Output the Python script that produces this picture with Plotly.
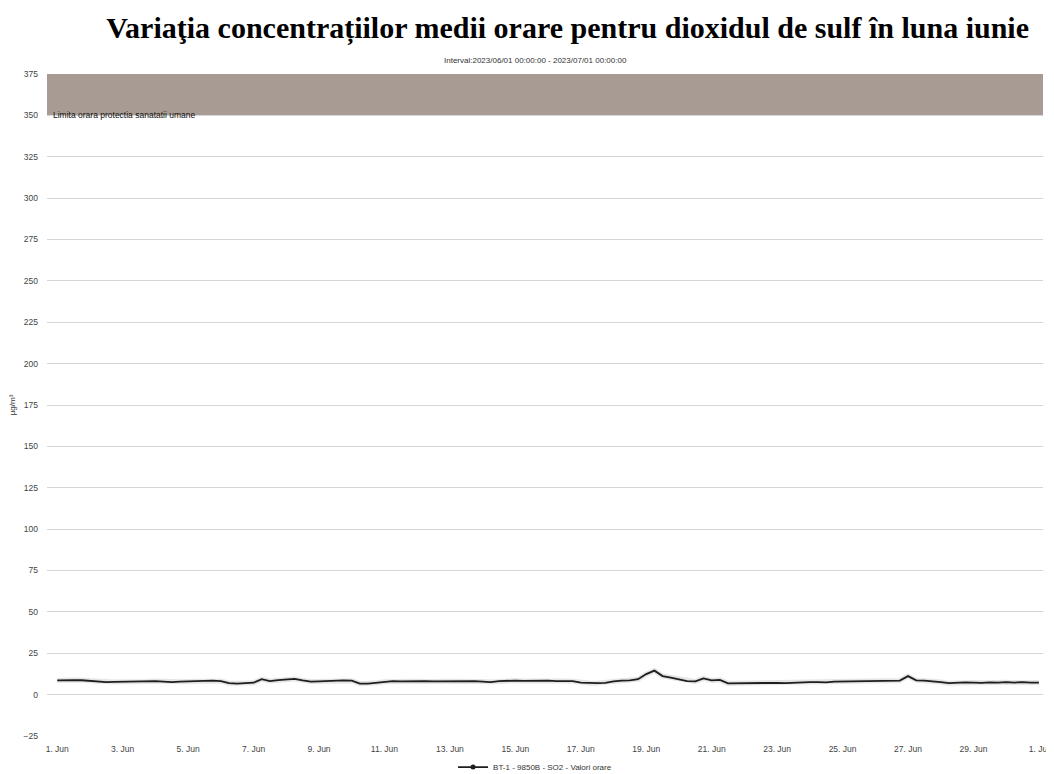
import plotly.graph_objects as go
import pandas as pd

# ---- data (6-hourly readings, µg/m³) ----
start = "2023-06-01 00:00"
so2_values = [
    8.6, 8.9, 8.8, 8.7,   # 1 Jun
    8.4, 7.8, 7.6, 7.7,   # 2 Jun
    7.8, 8.1, 8.3, 8.0,   # 3 Jun
    8.2, 7.9, 7.6, 7.8,   # 4 Jun
    8.0, 8.1, 8.3, 8.5,   # 5 Jun
    8.2, 6.9, 6.6, 7.0,   # 6 Jun
    7.2, 9.3, 8.2, 8.8,   # 7 Jun
    9.2, 9.5, 8.6, 7.9,   # 8 Jun
    8.0, 8.2, 8.5, 8.6,   # 9 Jun
    8.4, 6.6, 6.7, 7.1,   # 10 Jun
    7.8, 8.2, 8.0, 8.1,   # 11 Jun
    8.3, 8.2, 8.0, 8.1,   # 12 Jun
    8.2, 8.3, 8.0, 8.2,   # 13 Jun
    7.9, 7.6, 8.1, 8.4,   # 14 Jun
    8.5, 8.3, 8.4, 8.6,   # 15 Jun
    8.5, 8.2, 8.3, 8.1,   # 16 Jun
    7.3, 7.0, 6.9, 7.1,   # 17 Jun
    8.0, 8.4, 8.6, 9.3,   # 18 Jun
    12.4, 14.5, 11.2, 10.3,  # 19 Jun
    9.4, 8.2, 8.0, 9.8,   # 20 Jun
    8.6, 8.9, 6.8, 6.9,   # 21 Jun
    7.0, 6.8, 7.2, 7.4,   # 22 Jun
    7.1, 7.0, 7.3, 7.2,   # 23 Jun
    7.5, 7.6, 7.4, 7.8,   # 24 Jun
    7.9, 8.1, 8.3, 8.0,   # 25 Jun
    8.4, 8.6, 8.3, 8.5,   # 26 Jun
    11.2, 8.6, 8.4, 8.2,  # 27 Jun
    7.6, 6.9, 7.2, 7.4,   # 28 Jun
    7.3, 7.1, 7.4, 7.2,   # 29 Jun
    7.5, 7.3, 7.6, 7.2,   # 30 Jun
    7.3,                  # 1 Jul 00:00
]
times = pd.date_range(start, periods=len(so2_values), freq="6h")

tick_dates = ["2023-06-%02d" % d for d in range(1, 31, 2)] + ["2023-07-01"]
tick_labels = ["%d. Jun" % d for d in range(1, 31, 2)] + ["1. Jul"]
y_ticks = list(range(-25, 376, 25))

limit_low, limit_high = 350, 375
limit_label = "Limita orara protectia sanatatii umane"
series_name = "BT-1 - 9850B - SO2 - Valori orare"
title_text = "Variaţia concentrațiilor medii orare pentru dioxidul de sulf în luna iunie"
subtitle_text = "Interval:2023/06/01 00:00:00 - 2023/07/01 00:00:00"

FONT = "Liberation Sans, Arial, sans-serif"

fig = go.Figure()
# faint shadow
fig.add_trace(go.Scatter(x=times, y=so2_values, mode="lines",
                         line=dict(color="rgba(0,0,0,0.10)", width=5),
                         hoverinfo="skip", showlegend=False))
fig.add_trace(go.Scatter(x=times, y=so2_values, mode="lines",
                         line=dict(color="#1e1e1e", width=1.8),
                         name=series_name, showlegend=False))
# legend entry
fig.add_trace(go.Scatter(x=[None], y=[None], mode="lines+markers",
                         line=dict(color="#1e1e1e", width=1.8),
                         marker=dict(color="#1e1e1e", size=5),
                         name=series_name, showlegend=True))

fig.add_shape(type="rect", xref="paper", x0=0, x1=1, yref="y",
              y0=limit_low, y1=limit_high, fillcolor="#a89b94",
              line=dict(width=0), layer="below")
fig.add_annotation(xref="paper", x=0.004, yref="y", y=limit_low,
                   text=limit_label, showarrow=False, xanchor="left",
                   yanchor="middle", font=dict(family=FONT, size=8.5, color="#111"))

fig.add_annotation(xref="paper", yref="paper", x=0.49, y=1.0, yshift=14,
                   text=subtitle_text, showarrow=False, xanchor="center",
                   yanchor="middle", font=dict(family=FONT, size=8, color="#333"))

fig.update_layout(
    width=1046, height=766,
    margin=dict(l=39, r=11, t=66, b=38, autoexpand=False),
    paper_bgcolor="white", plot_bgcolor="white",
    title=dict(text="<b>" + title_text + "</b>", x=0.535, xanchor="center",
               y=0.974, yanchor="middle", yref="container",
               font=dict(family="Liberation Serif, Times New Roman, serif",
                         size=30, color="black")),
    showlegend=True,
    legend=dict(orientation="h", x=0.49, xanchor="center", y=-0.047,
                yanchor="middle", font=dict(family=FONT, size=8, color="#333"),
                bgcolor="rgba(0,0,0,0)"),
    xaxis=dict(type="date", range=["2023-05-31 16:30", "2023-07-01 03:00"],
               tickvals=tick_dates, ticktext=tick_labels, showgrid=False,
               zeroline=False, showline=False, ticks="", automargin=False,
               ticklabelstandoff=6,
               tickfont=dict(family=FONT, size=8.5, color="#444")),
    yaxis=dict(range=[-25, 375], tickvals=y_ticks, showgrid=True,
               gridcolor="#d6d6d6", gridwidth=1, zeroline=False,
               showline=False, ticks="", ticklabelstandoff=8, automargin=False,
               tickfont=dict(family=FONT, size=8.5, color="#444"),
               title=dict(text="µg/m³", standoff=6,
                          font=dict(family=FONT, size=8, color="#333"))),
)

fig.write_html("out.html")
